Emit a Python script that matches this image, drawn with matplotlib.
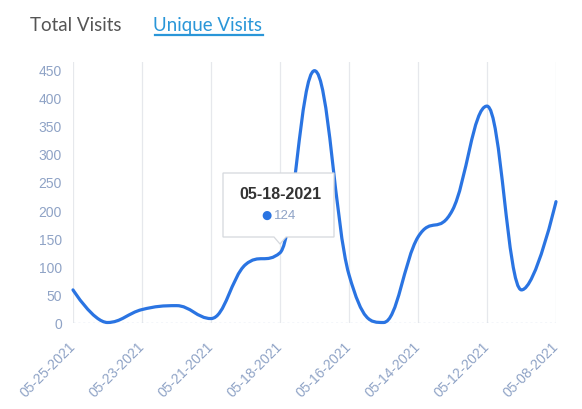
import matplotlib
matplotlib.use("Agg")
import matplotlib.pyplot as plt
import numpy as np
from matplotlib.path import Path
from matplotlib.patches import PathPatch, Polygon

dates = ["05-25-2021", "05-24-2021", "05-23-2021", "05-22-2021", "05-21-2021",
         "05-19-2021", "05-18-2021", "05-17-2021", "05-16-2021", "05-15-2021",
         "05-14-2021", "05-13-2021", "05-12-2021", "05-10-2021", "05-08-2021"]
visits = [58, 0, 23, 30, 7, 103, 124, 448, 85, 0, 152, 200, 385, 58, 215]
yticks = [0, 50, 100, 150, 200, 250, 300, 350, 400, 450]
tooltip_index = 6

W, H = 582, 410
fig = plt.figure(figsize=(W / 100, H / 100), dpi=100)
fig.patch.set_facecolor("white")
plt.rcParams["font.family"] = ["Liberation Sans", "DejaVu Sans"]

ax_l, ax_r, ax_b, ax_t = 73, 556, 323.5, 62.7
ax = fig.add_axes([ax_l / W, 1 - ax_b / H, (ax_r - ax_l) / W, (ax_b - ax_t) / H])
ymax = 464
n = len(visits)
ax.set_xlim(0, n - 1)
ax.set_ylim(0, ymax)

# spline smoothing (control points at 0.4 of each segment, no false extremes)
v = np.array(visits, dtype=float)
xs = np.arange(n, dtype=float)
sm = 1.5
left = [(xs[i], v[i]) for i in range(n)]
right = [(xs[i], v[i]) for i in range(n)]
for i in range(1, n - 1):
    lx = (sm * xs[i] + xs[i - 1]) / (sm + 1)
    ly = (sm * v[i] + v[i - 1]) / (sm + 1)
    rx = (sm * xs[i] + xs[i + 1]) / (sm + 1)
    ry = (sm * v[i] + v[i + 1]) / (sm + 1)
    corr = (ry - ly) * (rx - xs[i]) / (rx - lx) + v[i] - ry
    ly += corr
    ry += corr
    if ly > v[i - 1] and ly > v[i]:
        ly = max(v[i - 1], v[i]); ry = 2 * v[i] - ly
    elif ly < v[i - 1] and ly < v[i]:
        ly = min(v[i - 1], v[i]); ry = 2 * v[i] - ly
    if ry > v[i + 1] and ry > v[i]:
        ry = max(v[i + 1], v[i]); ly = 2 * v[i] - ry
    elif ry < v[i + 1] and ry < v[i]:
        ry = min(v[i + 1], v[i]); ly = 2 * v[i] - ry
    left[i] = (lx, ly)
    right[i] = (rx, ry)

verts = [(xs[0], v[0])]
codes = [Path.MOVETO]
for i in range(n - 1):
    verts += [right[i], left[i + 1], (xs[i + 1], v[i + 1])]
    codes += [Path.CURVE4] * 3
line_color = "#2a74e2"
ax.add_patch(PathPatch(Path(verts, codes), fill=False, edgecolor=line_color,
                       lw=2.3, capstyle="round", joinstyle="round", zorder=3, clip_on=False))

# axes styling
for s in ax.spines.values():
    s.set_visible(False)
tick_color = "#8fa3c6"
ax.set_yticks(yticks)
ax.set_yticklabels([str(t) for t in yticks])
ax.set_xticks(range(0, n, 2))
ax.set_xticklabels([dates[i] for i in range(0, n, 2)], rotation=45, ha="right",
                   va="center", rotation_mode="anchor")
ax.tick_params(axis="both", length=0, colors=tick_color, labelsize=10)
ax.tick_params(axis="y", pad=8)
ax.tick_params(axis="x", pad=15)
for i in range(0, n, 2):
    ax.axvline(i, color="#e6e8ec", lw=0.9, zorder=1)
ax.axhline(0, color="#c9d6ea", lw=1, ls=(0, (1.5, 2)), zorder=2)

# tooltip
def px2fig(x, y):
    return x / W, 1 - y / H

bx0, bx1, by0, by1 = 223, 334, 174, 238
tip_x, tip_y = 280, 245
poly = [(bx0, by0), (bx1, by0), (bx1, by1), (tip_x + 6, by1), (tip_x, tip_y),
        (tip_x - 6, by1), (bx0, by1)]
fig.patches.append(Polygon([px2fig(*p) for p in poly], closed=True, transform=fig.transFigure,
                           facecolor="white", edgecolor="#d5d8dd", lw=0.9, zorder=10))
fig.text(*px2fig(280, 195), dates[tooltip_index], ha="center", va="center",
         fontsize=11.5, fontweight="bold", color="#333333", zorder=11)
fig.text(*px2fig(266, 215), "\u25cf", ha="center", va="center", fontsize=8.5,
         color=line_color, zorder=11, family="DejaVu Sans")
fig.text(*px2fig(274, 216), str(visits[tooltip_index]), ha="left", va="center",
         fontsize=9.5, color=tick_color, zorder=11)

# header tabs
fig.text(*px2fig(30, 31), "Total Visits", ha="left", va="baseline", fontsize=13.5,
         color="#555555", family="Lato")
fig.text(*px2fig(153, 31), "Unique Visits", ha="left", va="baseline", fontsize=13.5,
         color="#2a96d8", family="Lato")
fig.add_artist(plt.Line2D([155 / W, 263 / W], [1 - 35.5 / H, 1 - 35.5 / H], color="#2a96d8",
                          lw=1.6, transform=fig.transFigure))

fig.savefig("out.png", dpi=100, facecolor="white")
